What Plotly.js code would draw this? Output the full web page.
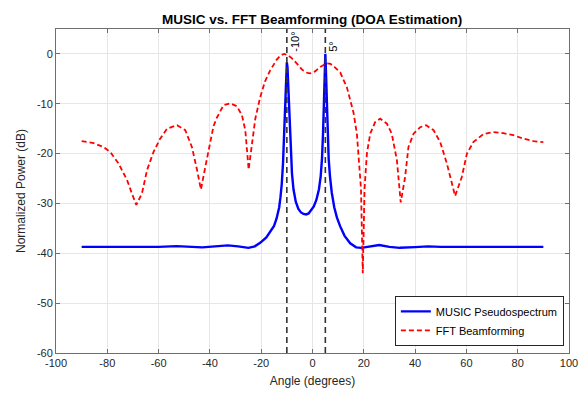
<!DOCTYPE html>
<html>
<head>
<meta charset="utf-8">
<script src="https://cdn.plot.ly/plotly-3.0.1.min.js"></script>
<style>html,body{margin:0;padding:0;background:#fff;}#plot{width:588px;height:394px;}</style>
</head>
<body>
<div id="plot"></div>
<script>
// MUSIC pseudospectrum
var musicAngles = [-90,-80,-70,-60,-53,-47,-43,-38,-33,-29,-25,-22.5,-20.4,-18,-16,-15,-14,-13,-12.5,-12,-11.5,-11,-10.75,-10.5,-10.25,-10,-9.75,-9.5,-9.25,-9,-8.5,-8,-7.4,-6.5,-5.5,-4.5,-3.5,-2.5,-1.5,-0.5,0.5,1.5,2.5,3.2,3.7,4.1,4.4,4.65,4.85,5,5.15,5.35,5.6,5.9,6.3,6.8,7.5,8.5,9.5,10.8,12.5,14.7,17,19,22,26,30,34,40,45,50,60,70,80,90];
var musicPower = [-38.7,-38.75,-38.8,-38.7,-38.55,-38.7,-38.8,-38.6,-38.4,-38.6,-38.9,-38.6,-37.9,-36.8,-35.4,-34.5,-33,-30.8,-28.8,-26.2,-22,-14.5,-9.5,-5.5,-2.7,-1.7,-2.7,-5.5,-9.5,-14,-20,-24,-27.2,-29.7,-31.1,-31.8,-32.1,-32.2,-32,-31.4,-30.6,-29.3,-27.2,-24.5,-21,-16,-10.5,-5.5,-2,0,-2,-5.5,-10.5,-16,-21,-24.5,-27.8,-30.8,-32.8,-34.6,-36.5,-38,-38.8,-38.9,-38.6,-38.35,-38.7,-38.9,-38.75,-38.6,-38.7,-38.75,-38.7,-38.7,-38.7];

// FFT beamforming
var fftAngles = [-90,-85.3,-81.4,-78.8,-75.6,-72.3,-70.4,-68.7,-66.5,-64.5,-62,-59.4,-56.7,-52.8,-49.6,-47,-45,-43.5,-41.8,-40.5,-38.6,-37.3,-34.7,-32.1,-29.5,-27.5,-26.2,-24.9,-23.6,-22.3,-20.4,-18.5,-16.5,-14,-12.5,-11,-9.5,-8,-6,-4,-2,-0.9,1,3,5.5,7,8.5,10.8,13.4,15.3,16,17.3,17.9,18.9,19.6,20.3,21.2,22.5,24.4,26.4,29,30.9,32.9,34.4,36.1,37.4,39.4,42,44.3,47.2,49.8,52.4,55.6,58.2,60.2,62.7,66.6,70.5,74.4,78.3,82.2,86.1,90];
var fftPower = [-17.5,-17.9,-18.7,-19.7,-22,-25.3,-28,-30.3,-28,-23.3,-19.7,-17,-15,-14.3,-15.3,-18.7,-23.3,-27.2,-22.7,-19.3,-14.5,-12.8,-10.3,-9.9,-10.5,-12.3,-15.3,-23.2,-18,-13,-8.7,-5.5,-3.3,-1.2,-0.3,0,-0.3,-0.9,-2,-3.2,-3.8,-3.9,-3.5,-2.6,-1.9,-2.0,-2.6,-3.7,-6.7,-10.7,-11.8,-16,-20,-27,-44,-27,-20,-16,-13.7,-13,-14,-16,-21.3,-29.8,-24.7,-18.7,-16,-14.7,-14.3,-15.3,-17.7,-22,-28.5,-24.7,-20,-17.7,-16.1,-15.7,-15.9,-16.3,-17,-17.5,-17.7];

// True DOAs
var doaAngles = [-10, 5];
var doaLabels = ['-10°', '5°'];

var xTicks = [-100,-80,-60,-40,-20,0,20,40,60,80,100];
var yTicks = [-60,-50,-40,-30,-20,-10,0];

var FONT = 'Liberation Sans, Arial, Helvetica, sans-serif';

var traces = [
  {x: musicAngles, y: musicPower, type: 'scatter', mode: 'lines', name: 'MUSIC Pseudospectrum',
   line: {color: '#0000ff', width: 2.4}},
  {x: fftAngles, y: fftPower, type: 'scatter', mode: 'lines', name: 'FFT Beamforming',
   line: {color: '#ff0000', width: 1.8, dash: '5px,3px'}}
];

var shapes = doaAngles.map(function(a){
  return {type: 'line', xref: 'x', yref: 'paper', x0: a, x1: a, y0: 0, y1: 1,
          line: {color: '#333333', width: 1.6, dash: '6px,4px'}, layer: 'above'};
});
var annotations = doaAngles.map(function(a, i){
  return {x: a, y: 0, xref: 'x', yref: 'y', text: doaLabels[i], showarrow: false,
          textangle: -90, xanchor: 'left', yanchor: 'bottom',
          font: {family: FONT, size: 11, color: '#000'}};
});

var axisCommon = {
  showgrid: true, gridcolor: '#e6e6e6', gridwidth: 1,
  showline: true, linecolor: '#6e6e6e', linewidth: 1, mirror: 'ticks',
  ticks: 'inside', ticklen: 4, tickcolor: '#6e6e6e', tickwidth: 1,
  zeroline: false,
  tickfont: {family: FONT, size: 11, color: '#262626'}
};

var layout = {
  width: 588, height: 394,
  margin: {l: 56, r: 19, t: 29, b: 41, pad: 0},
  paper_bgcolor: '#ffffff', plot_bgcolor: '#ffffff',
  title: {text: '<b>MUSIC vs. FFT Beamforming (DOA Estimation)</b>', x: 0.531, xanchor: 'center', y: 0.952, yanchor: 'middle',
          font: {family: FONT, size: 13.5, color: '#000'}},
  xaxis: Object.assign({}, axisCommon, {range: [-100, 100], tickvals: xTicks, ticktext: xTicks.map(String),
          title: {text: 'Angle (degrees)', standoff: 8, font: {family: FONT, size: 12, color: '#262626'}}}),
  yaxis: Object.assign({}, axisCommon, {range: [-60, 5], tickvals: yTicks, ticktext: yTicks.map(String),
          title: {text: 'Normalized Power (dB)', standoff: 8, font: {family: FONT, size: 12, color: '#262626'}}}),
  legend: {x: 0.99, y: 0.022, xanchor: 'right', yanchor: 'bottom', bgcolor: '#ffffff',
           bordercolor: '#262626', borderwidth: 1, tracegroupgap: 0,
           font: {family: FONT, size: 11, color: '#000'}},
  showlegend: true,
  shapes: shapes,
  annotations: annotations
};

Plotly.newPlot('plot', traces, layout, {displayModeBar: false, staticPlot: true});
</script>
</body>
</html>
